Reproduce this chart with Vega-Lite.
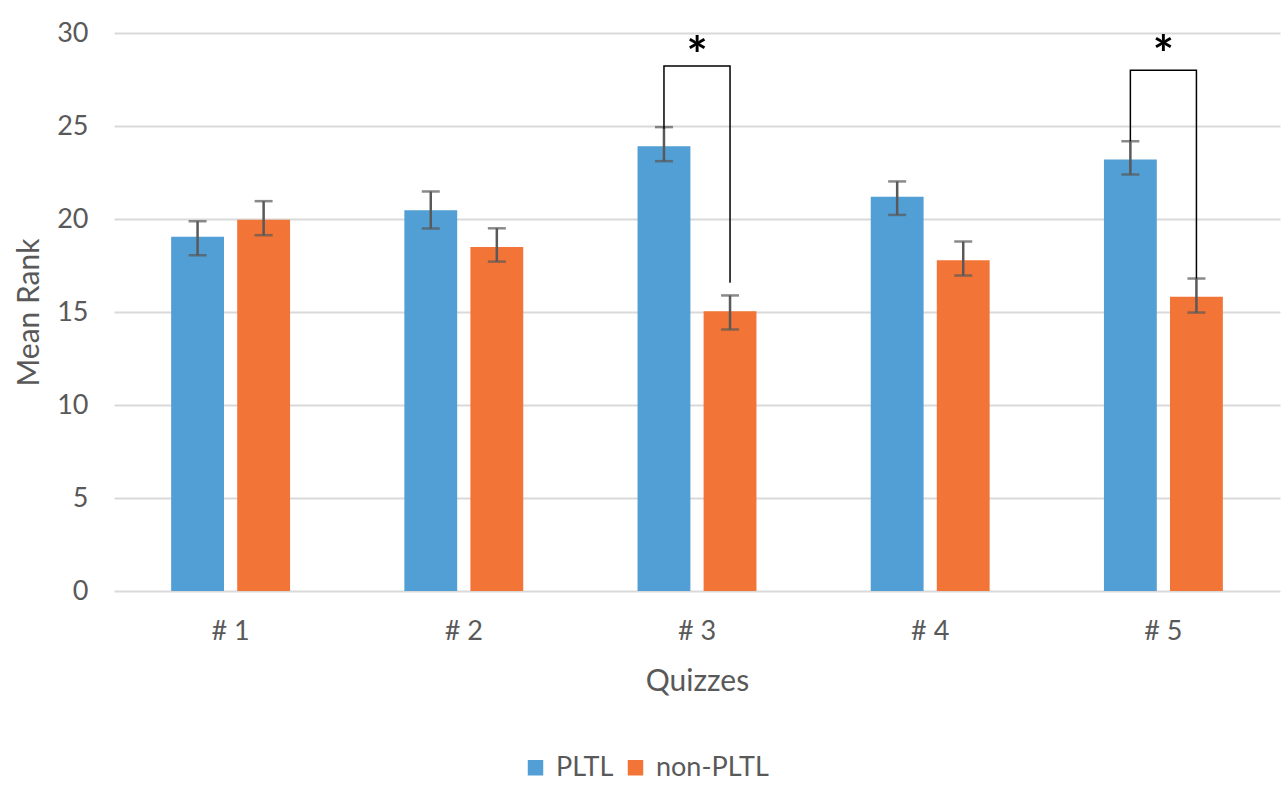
{
  "$schema": "https://vega.github.io/schema/vega-lite/v6.json",
  "width": 1166,
  "height": 558,
  "autosize": {"type": "none"},
  "padding": {"left": 114, "top": 33, "right": 4, "bottom": 208},
  "background": "white",
  "config": {
    "view": {"stroke": null},
    "font": "Lato",
    "axis": {"labelFont": "Lato", "titleFont": "Lato"},
    "legend": {"labelFont": "Lato"}
  },
  "datasets": {
    "bars": [
      {"quiz": "# 1", "group": "PLTL", "mean": 19.04, "lo": 18.05, "hi": 19.88},
      {"quiz": "# 1", "group": "non-PLTL", "mean": 19.96, "lo": 19.13, "hi": 20.96},
      {"quiz": "# 2", "group": "PLTL", "mean": 20.47, "lo": 19.49, "hi": 21.48},
      {"quiz": "# 2", "group": "non-PLTL", "mean": 18.5, "lo": 17.71, "hi": 19.5},
      {"quiz": "# 3", "group": "PLTL", "mean": 23.91, "lo": 23.11, "hi": 24.94},
      {"quiz": "# 3", "group": "non-PLTL", "mean": 15.04, "lo": 14.06, "hi": 15.89},
      {"quiz": "# 4", "group": "PLTL", "mean": 21.19, "lo": 20.22, "hi": 22.02},
      {"quiz": "# 4", "group": "non-PLTL", "mean": 17.78, "lo": 16.96, "hi": 18.79},
      {"quiz": "# 5", "group": "PLTL", "mean": 23.2, "lo": 22.39, "hi": 24.18},
      {"quiz": "# 5", "group": "non-PLTL", "mean": 15.82, "lo": 14.97, "hi": 16.8}
    ],
    "brackets": [
      {"id": "b3", "quiz": "# 3", "group": "PLTL", "v": 24.85, "ord": 1},
      {"id": "b3", "quiz": "# 3", "group": "PLTL", "v": 28.22, "ord": 2},
      {"id": "b3", "quiz": "# 3", "group": "non-PLTL", "v": 28.22, "ord": 3},
      {"id": "b3", "quiz": "# 3", "group": "non-PLTL", "v": 16.57, "ord": 4},
      {"id": "b5", "quiz": "# 5", "group": "PLTL", "v": 24.18, "ord": 1},
      {"id": "b5", "quiz": "# 5", "group": "PLTL", "v": 28.0, "ord": 2},
      {"id": "b5", "quiz": "# 5", "group": "non-PLTL", "v": 28.0, "ord": 3},
      {"id": "b5", "quiz": "# 5", "group": "non-PLTL", "v": 16.8, "ord": 4}
    ],
    "stars": [
      {"quiz": "# 3", "v": 29.25, "label": "*"},
      {"quiz": "# 5", "v": 29.3, "label": "*"}
    ]
  },
  "encoding": {
    "x": {
      "field": "quiz",
      "type": "nominal",
      "sort": ["# 1", "# 2", "# 3", "# 4", "# 5"],
      "scale": {"domain": ["# 1", "# 2", "# 3", "# 4", "# 5"], "paddingInner": 0, "paddingOuter": 0},
      "axis": {
        "title": "Quizzes",
        "labelAngle": 0,
        "labelFontSize": 27,
        "labelColor": "#595959",
        "labelPadding": 27,
        "titleFontSize": 30,
        "titleFontWeight": "normal",
        "titleColor": "#595959",
        "titlePadding": 22,
        "domain": false,
        "ticks": false,
        "grid": false
      }
    }
  },
  "layer": [
    {
      "data": {"name": "bars"},
      "mark": {"type": "bar"},
      "encoding": {
        "xOffset": {"field": "group", "type": "nominal", "scale": {"domain": ["PLTL", "non-PLTL"], "paddingInner": 0.2, "paddingOuter": 0.865}},
        "y": {
          "field": "mean",
          "type": "quantitative",
          "scale": {"domain": [0, 30], "nice": false},
          "axis": {
            "title": "Mean Rank",
            "values": [0, 5, 10, 15, 20, 25, 30],
            "labelFontSize": 27,
            "labelColor": "#595959",
            "labelPadding": 26,
            "titleFontSize": 30,
            "titleFontWeight": "normal",
            "titleColor": "#595959",
            "titlePadding": 12,
            "domain": false,
            "ticks": false,
            "gridColor": "#d9d9d9",
            "gridWidth": 2
          }
        },
        "color": {
          "field": "group",
          "type": "nominal",
          "scale": {"domain": ["PLTL", "non-PLTL"], "range": ["#519fd5", "#f27537"]},
          "legend": {
            "title": null,
            "orient": "none",
            "direction": "horizontal",
            "legendX": 408,
            "legendY": 721,
            "symbolType": "square",
            "symbolSize": 240,
            "symbolStrokeWidth": 0,
            "labelFontSize": 27,
            "labelColor": "#595959",
            "columnPadding": 8,
            "labelOffset": 7
          }
        }
      }
    },
    {
      "data": {"name": "bars"},
      "mark": {"type": "rule", "color": "#595959", "strokeWidth": 2.5},
      "encoding": {
        "xOffset": {"field": "group", "type": "nominal"},
        "y": {"field": "lo", "type": "quantitative"},
        "y2": {"field": "hi"}
      }
    },
    {
      "data": {"name": "bars"},
      "mark": {"type": "tick", "color": "#595959", "thickness": 2.5, "size": 18, "orient": "horizontal"},
      "encoding": {
        "xOffset": {"field": "group", "type": "nominal"},
        "y": {"field": "lo", "type": "quantitative"}
      }
    },
    {
      "data": {"name": "bars"},
      "mark": {"type": "tick", "color": "#595959", "thickness": 2.5, "size": 18, "orient": "horizontal"},
      "encoding": {
        "xOffset": {"field": "group", "type": "nominal"},
        "y": {"field": "hi", "type": "quantitative"}
      }
    },
    {
      "data": {"name": "brackets"},
      "mark": {"type": "line", "color": "#000000", "strokeWidth": 1.5, "interpolate": "linear"},
      "encoding": {
        "xOffset": {"field": "group", "type": "nominal"},
        "y": {"field": "v", "type": "quantitative"},
        "order": {"field": "ord", "type": "quantitative"},
        "detail": {"field": "id", "type": "nominal"}
      }
    },
    {
      "data": {"name": "stars"},
      "mark": {"type": "text", "fontSize": 50, "fontWeight": "bold", "color": "#000000", "baseline": "middle", "dy": 11},
      "encoding": {
        "y": {"field": "v", "type": "quantitative"},
        "text": {"field": "label"}
      }
    }
  ]
}
